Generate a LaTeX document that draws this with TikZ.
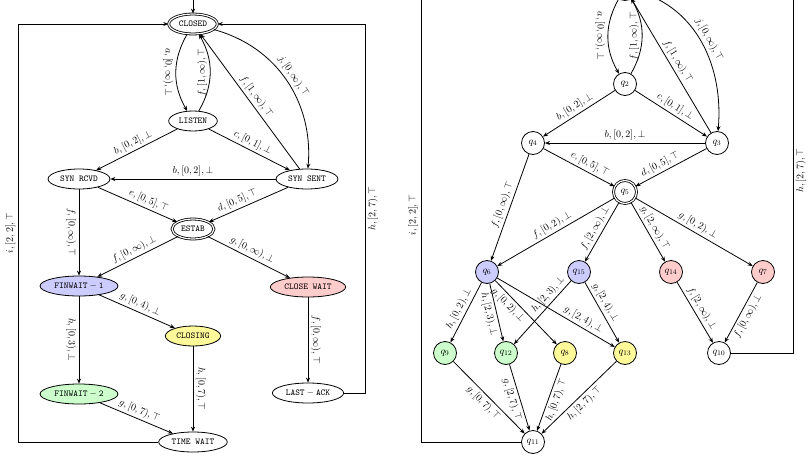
\documentclass[tikz,border=0pt]{standalone}
\usetikzlibrary{shapes.geometric,arrows.meta}

\tikzset{
  tcpstate/.style={ellipse, draw, thick, minimum height=20pt, inner sep=3pt, font=\small\ttfamily},
  final/.style={double, double distance=1.2pt},
  loc/.style={circle, draw, thick, minimum size=23pt, inner sep=1pt},
  trans/.style={->, thick},
  lab/.style={sloped, inner sep=2.5pt},
}

\begin{document}
\begin{tikzpicture}[x=1pt, y=1pt, >={Stealth[length=5pt, width=4pt]}]

    \clip (0,0) rectangle (808,-455);

    % TCP states
    \node[tcpstate, final] (closed) at (193,-24) {CLOSED};
    \node[tcpstate] (listen) at (193,-121) {LISTEN};
    \node[tcpstate] (synrcvd) at (79,-179) {SYN RCVD};
    \node[tcpstate] (synsent) at (307,-179) {SYN SENT};
    \node[tcpstate, final] (estab) at (193,-229) {ESTAB};
    \node[tcpstate, fill=blue!20] (finwait1) at (79,-286) {$\mathtt{FINWAIT-1}$};
    \node[tcpstate, fill=red!20] (closewait) at (308,-287) {CLOSE WAIT};
    \node[tcpstate, fill=yellow!40] (closing) at (193,-336) {CLOSING};
    \node[tcpstate, fill=green!20] (finwait2) at (79,-394) {$\mathtt{FINWAIT-2}$};
    \node[tcpstate] (lastack) at (308,-393) {$\mathtt{LAST-ACK}$};
    \node[tcpstate] (timewait) at (193,-442) {TIME WAIT};

    \coordinate (tcpinit) at (193,5);
    \draw[trans] (tcpinit) -- (closed);

    % TCP transitions
    \draw[trans] (closed) to[bend right=30] node[lab, below] {$a, [0,\infty), \bot$} (listen);
    \draw[trans] (listen) to[bend right=30] node[lab, above] {$f, [1,\infty), \top$} (closed);
    \draw[trans] (closed) to[out=-15, in=85] node[lab, above] {$j, [0,\infty), \top$} (synsent);
    \draw[trans] (synsent) -- node[lab, above] {$f, [1,\infty), \top$} (closed);
    \draw[trans] (listen) -- node[lab, above] {$b, [0,2], \bot$} (synrcvd);
    \draw[trans] (listen) -- node[lab, above] {$c, [0,1], \bot$} (synsent);
    \draw[trans] (synsent) -- node[lab, above] {$b, [0,2], \bot$} (synrcvd);
    \draw[trans] (synrcvd) -- node[lab, above, pos=0.6] {$e, [0,5], \top$} (estab);
    \draw[trans] (synsent) -- node[lab, above, pos=0.6] {$d, [0,5], \top$} (estab);
    \draw[trans] (synrcvd) -- node[lab, below] {$f, [0,\infty), \top$} (finwait1);
    \draw[trans] (estab) -- node[lab, above] {$f, [0,\infty), \bot$} (finwait1);
    \draw[trans] (estab) -- node[lab, above] {$g, [0,\infty), \bot$} (closewait);
    \draw[trans] (finwait1) -- node[lab, above] {$g, [0,4), \bot$} (closing);
    \draw[trans] (finwait1) -- node[lab, below] {$h, [0,3), \bot$} (finwait2);
    \draw[trans] (closing) -- node[lab, above] {$h, [0,7), \top$} (timewait);
    \draw[trans] (finwait2) -- node[lab, above] {$g, [0,7), \top$} (timewait);
    \draw[trans] (closewait) -- node[lab, above] {$f, [0,\infty), \top$} (lastack);
    \draw[trans] (lastack.east) -- ++(21,0) |- node[lab, pos=0.25, below] {$h, [2,7), \top$} (closed.east);
    \draw[trans] (timewait.west) -- ++(-140,0) |- node[lab, pos=0.25, above] {$i, [2,2], \top$} (closed.west);

    % Locations
    \node[loc, final] (q1) at (625,12) {$q_1$};
    \node[loc] (q2) at (625,-84) {$q_2$};
    \node[loc] (q3) at (717,-143) {$q_3$};
    \node[loc] (q4) at (533,-143) {$q_4$};
    \node[loc, final] (q5) at (625,-192) {$q_5$};
    \node[loc, fill=blue!20] (q6) at (487,-272) {$q_6$};
    \node[loc, fill=blue!20] (q15) at (579,-272) {$q_{15}$};
    \node[loc, fill=red!20] (q14) at (671,-272) {$q_{14}$};
    \node[loc, fill=red!20] (q7) at (763,-272) {$q_7$};
    \node[loc, fill=green!20] (q9) at (445,-353) {$q_9$};
    \node[loc, fill=green!20] (q12) at (506,-353) {$q_{12}$};
    \node[loc, fill=yellow!40] (q8) at (565,-353) {$q_8$};
    \node[loc, fill=yellow!40] (q13) at (625,-353) {$q_{13}$};
    \node[loc] (q10) at (719,-353) {$q_{10}$};
    \node[loc] (q11) at (533,-442) {$q_{11}$};

    \coordinate (qinit) at (625,50);
    \draw[trans] (qinit) -- (q1);

    % Edges
    \draw[trans] (q1) to[bend right=30] node[lab, below] {$a, [0,\infty), \bot$} (q2);
    \draw[trans] (q2) to[bend right=30] node[lab, above] {$f, [1,\infty), \top$} (q1);
    \draw[trans] (q1) to[out=-15, in=85] node[lab, above] {$j, [0,\infty), \top$} (q3);
    \draw[trans] (q3) -- node[lab, above] {$f, [1,\infty), \top$} (q1);
    \draw[trans] (q2) -- node[lab, above] {$b, [0,2], \bot$} (q4);
    \draw[trans] (q2) -- node[lab, above] {$c, [0,1], \bot$} (q3);
    \draw[trans] (q3) -- node[lab, above] {$b, [0,2], \bot$} (q4);
    \draw[trans] (q4) -- node[lab, above, pos=0.6] {$e, [0,5], \top$} (q5);
    \draw[trans] (q3) -- node[lab, above, pos=0.6] {$d, [0,5], \top$} (q5);
    \draw[trans] (q4) -- node[lab, above] {$f, [0,\infty), \top$} (q6);
    \draw[trans] (q5) -- node[lab, above] {$f, [0,2), \bot$} (q6);
    \draw[trans] (q5) -- node[lab, above] {$f, [2,\infty), \bot$} (q15);
    \draw[trans] (q5) -- node[lab, above] {$g, [2,\infty), \top$} (q14);
    \draw[trans] (q5) -- node[lab, above] {$g, [0,2), \bot$} (q7);
    \draw[trans] (q6) -- node[lab, above] {$h, [0,2), \bot$} (q9);
    \draw[trans] (q6) -- node[lab, below] {$h, [2,3), \bot$} (q12);
    \draw[trans] (q6) -- node[lab, below, pos=0.3] {$g, [0,2), \bot$} (q8);
    \draw[trans] (q6) -- node[lab, above, pos=0.7] {$g, [2,4), \bot$} (q13);
    \draw[trans] (q15) -- node[lab, above, pos=0.3] {$h, [2,3), \bot$} (q12);
    \draw[trans] (q15) -- node[lab, above, pos=0.4] {$g, [2,4), \bot$} (q13);
    \draw[trans] (q14) -- node[lab, above] {$f, [2,\infty), \bot$} (q10);
    \draw[trans] (q7) -- node[lab, below] {$f, [0,\infty), \bot$} (q10);
    \draw[trans] (q9) -- node[lab, below] {$g, [0,7), \top$} (q11);
    \draw[trans] (q12) -- node[lab, below] {$g, [2,7), \top$} (q11);
    \draw[trans] (q8) -- node[lab, below] {$h, [0,7), \top$} (q11);
    \draw[trans] (q13) -- node[lab, below] {$h, [2,7), \top$} (q11);
    \draw[trans] (q10.east) -- ++(62,0) |- node[lab, pos=0.25, below] {$h, [2,7), \top$} (q1.east);
    \draw[trans] (q11.west) -- ++(-100,0) |- node[lab, pos=0.25, above] {$i, [2,2], \top$} (q1.west);

\end{tikzpicture}
\end{document}
